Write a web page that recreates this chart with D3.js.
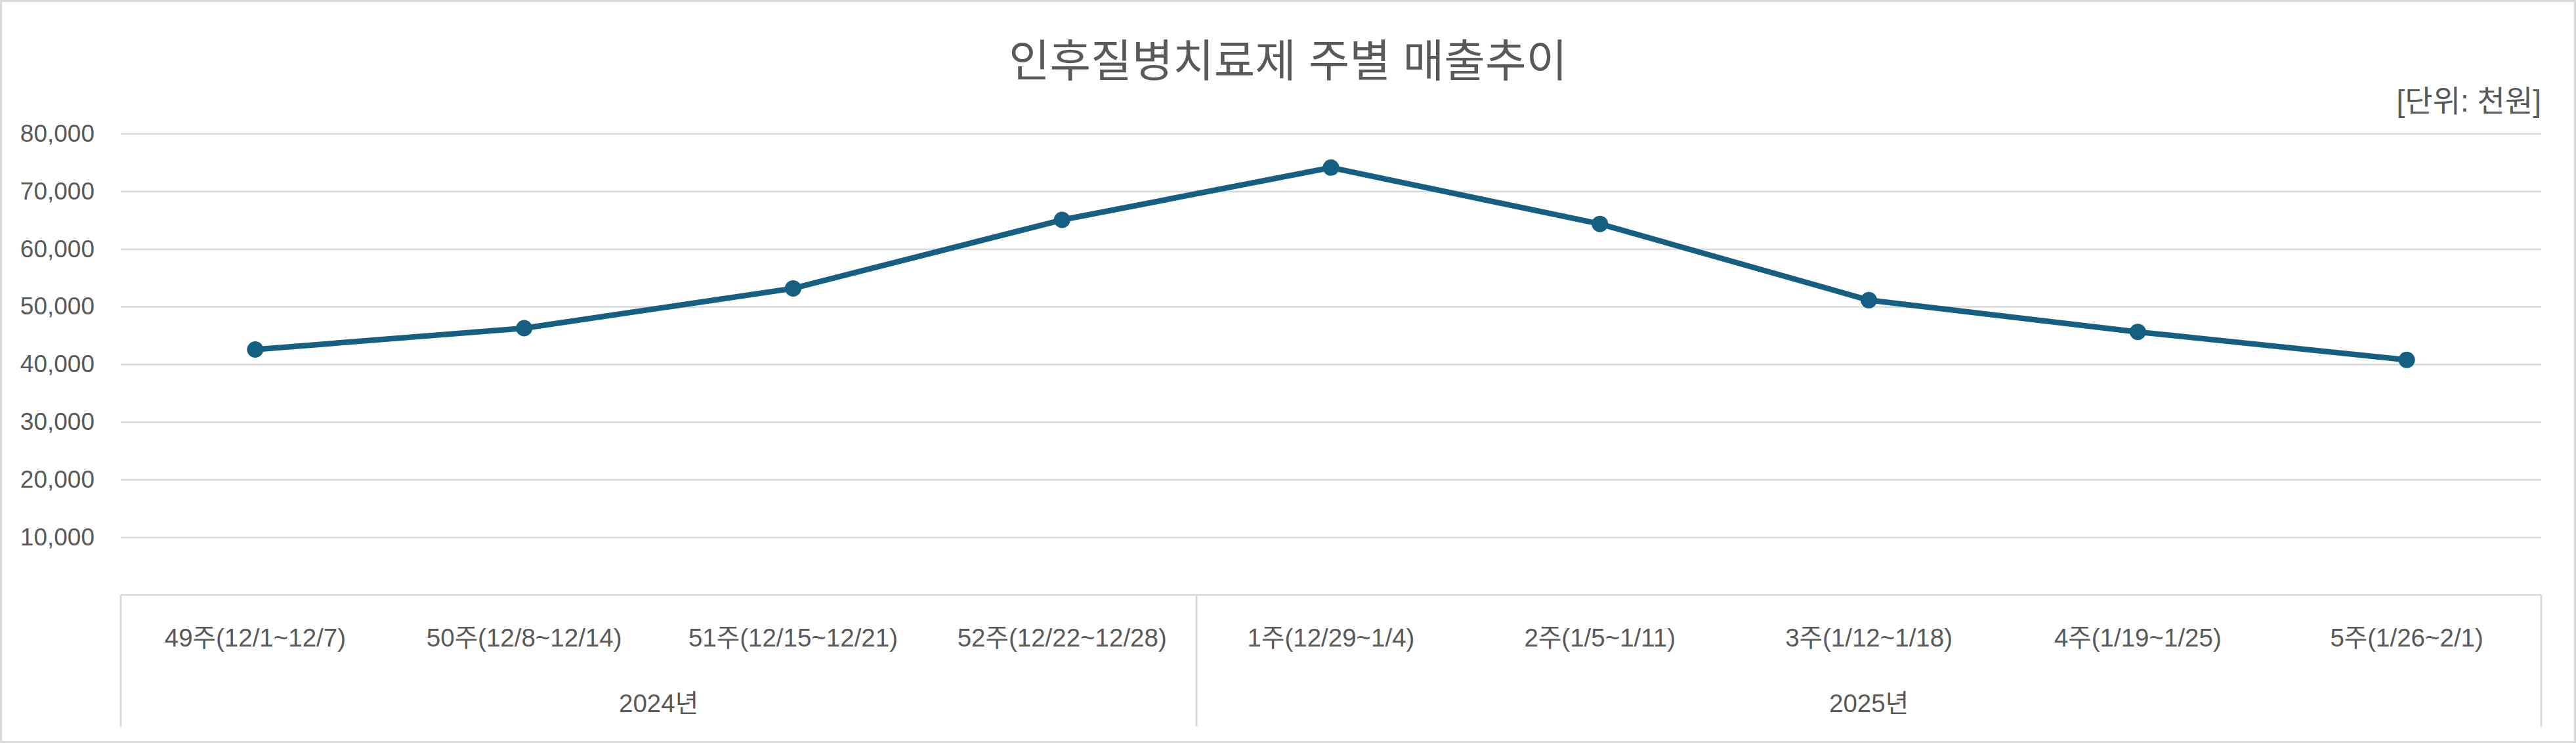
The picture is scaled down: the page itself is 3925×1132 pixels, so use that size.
<!DOCTYPE html>
<html>
<head>
<meta charset="utf-8">
<script src="https://cdn.jsdelivr.net/npm/d3@7/dist/d3.min.js"></script>
<style>
  html, body { margin: 0; padding: 0; background: #fff; }
  svg { display: block; }
  text { font-family: "Liberation Sans", "Noto Sans CJK KR", sans-serif; fill: #595959; }
</style>
</head>
<body>
<svg id="chart" width="3925" height="1132"></svg>
<script>
// ---- data ----
const title = "인후질병치료제 주별 매출추이";
const unitLabel = "[단위: 천원]";
const categories = [
  "49주(12/1~12/7)", "50주(12/8~12/14)", "51주(12/15~12/21)", "52주(12/22~12/28)",
  "1주(12/29~1/4)", "2주(1/5~1/11)", "3주(1/12~1/18)", "4주(1/19~1/25)", "5주(1/26~2/1)"
];
const years = ["2024년", "2025년"];
const yearCounts = [4, 5];
const sales = [42550, 46250, 53150, 65030, 74100, 64330, 51110, 45600, 40750];
const yTicks = [10000, 20000, 30000, 40000, 50000, 60000, 70000, 80000];

// ---- layout ----
const W = 3925, H = 1132;
const plot = { left: 184, right: 3872, top: 203.5, bottom: 906.3 };
const svg = d3.select("#chart");

svg.append("rect").attr("x", 1.5).attr("y", 1.5).attr("width", W - 3).attr("height", H - 3)
  .attr("fill", "#fff").attr("stroke", "#d9d9d9").attr("stroke-width", 3);

const x = d3.scaleBand().domain(categories).range([plot.left, plot.right]).padding(0);
const y = d3.scaleLinear().domain([0, 80000]).range([plot.bottom, plot.top]);

// gridlines
const grid = svg.append("g").attr("transform", `translate(${plot.left},0)`)
  .call(d3.axisLeft(y).tickValues(yTicks).tickSize(-(plot.right - plot.left)).tickFormat(""));
grid.select(".domain").remove();
grid.selectAll("line").attr("stroke", "#d9d9d9").attr("stroke-width", 2.6);

// y axis labels
const yAxis = svg.append("g").attr("transform", `translate(${plot.left},0)`)
  .call(d3.axisLeft(y).tickValues(yTicks).tickSize(0).tickPadding(40).tickFormat(d3.format(",")));
yAxis.select(".domain").remove();
yAxis.selectAll("text").attr("font-size", 37).attr("fill", "#595959")
  .style("font-family", '"Liberation Sans", "Noto Sans CJK KR", sans-serif');

// category axis (multi-level)
const xAxis = svg.append("g").attr("transform", `translate(0,${plot.bottom})`)
  .call(d3.axisBottom(x).tickSize(0).tickPadding(0));
xAxis.select(".domain").remove();
xAxis.selectAll("text").attr("font-size", 38.5).attr("fill", "#595959")
  .attr("dy", null).attr("y", 972 - plot.bottom).attr("dominant-baseline", "central")
  .style("font-family", '"Liberation Sans", "Noto Sans CJK KR", sans-serif');

const axisG = svg.append("g").attr("stroke", "#d9d9d9").attr("stroke-width", 2.8);
axisG.append("line").attr("x1", plot.left).attr("x2", plot.right).attr("y1", plot.bottom).attr("y2", plot.bottom);
let start = 0;
const boundaries = [0];
yearCounts.forEach(c => { start += c; boundaries.push(start); });
boundaries.forEach(b => {
  const bx = b < categories.length ? x(categories[b]) : x(categories[categories.length - 1]) + x.bandwidth();
  axisG.append("line").attr("x1", bx).attr("x2", bx).attr("y1", plot.bottom).attr("y2", 1107);
});
years.forEach((yr, i) => {
  const x0 = x(categories[boundaries[i]]);
  const last = categories[boundaries[i + 1] - 1];
  const x1 = x(last) + x.bandwidth();
  svg.append("text").attr("x", (x0 + x1) / 2).attr("y", 1071)
    .attr("text-anchor", "middle").attr("dominant-baseline", "central")
    .attr("font-size", 38.5).text(yr);
});

// line + markers
const lineColor = "#156082";
const line = d3.line().x((d, i) => x(categories[i]) + x.bandwidth() / 2).y(d => y(d));
svg.append("path").datum(sales).attr("d", line).attr("fill", "none")
  .attr("stroke", lineColor).attr("stroke-width", 8.5).attr("stroke-linejoin", "round");
svg.append("g").selectAll("circle").data(sales).join("circle")
  .attr("cx", (d, i) => x(categories[i]) + x.bandwidth() / 2)
  .attr("cy", d => y(d)).attr("r", 12.5).attr("fill", lineColor);

// title and unit
svg.append("text").attr("x", W / 2).attr("y", 93).attr("text-anchor", "middle")
  .attr("dominant-baseline", "central").attr("font-size", 68).text(title);
svg.append("text").attr("x", plot.right).attr("y", 154).attr("text-anchor", "end")
  .attr("dominant-baseline", "central").attr("font-size", 46).text(unitLabel);
</script>
</body>
</html>
